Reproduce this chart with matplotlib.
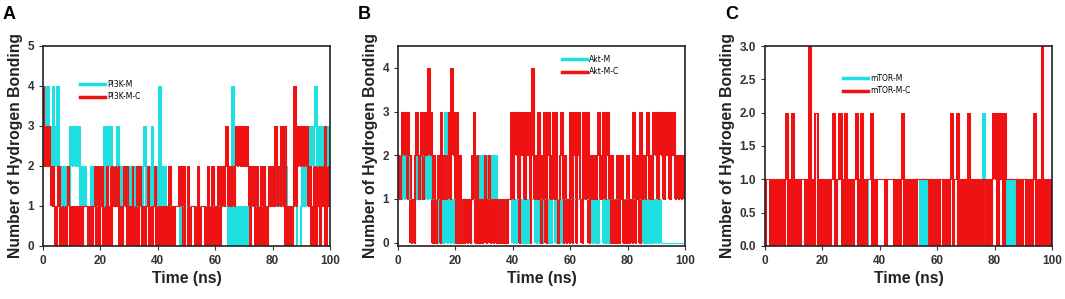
import numpy as np
import matplotlib
matplotlib.use('Agg')
import matplotlib.pyplot as plt
from matplotlib.lines import Line2D

plt.rcParams['font.family'] = ['Liberation Sans', 'DejaVu Sans']

# hydrogen bond counts, one digit per 0.5 ns frame, 10 ns per chunk
pi3k_m = ["34342324234212121213", "23232312121101212121", "12132323121231212121",
          "21212121212312123121", "24121211111111110111", "11111111111111111111",
          "11111111101040101010", "10101121111111111121", "12121212321010111000",
          "121223232342323232323"]
pi3k_mc = ["42323212101201010210", "10101010111101012020", "12012010212120102120",
           "10201202101012010120", "10101010201011121020", "02011101201110120120",
           "10201212312121323232", "32320212020120210121", "21312131301010141232",
           "323231201201201230121"]

akt_m = ["12121212101012121212", "12121010101013010101", "01010111111111212121",
         "21212121210101010111", "01010101010101110101", "01110101110101011111",
         "11111111111111101010", "11101010111111111111", "11111111111010101010",
         "101000000000000000000"]
akt_mc = ["21232313201023123132", "34230201203121231423", "03020101010123020101",
          "20120101010101010113", "13230323132302412130", "21302312313012302010",
          "30230231031230121212", "31231231020102012010", "20103012031212312132",
          "313231323132312121212"]

mtor_m = ["00000000000000000000", "00000000000000000000", "00000000000000000000",
          "00000000000100000000", "00000000000000000000", "00000000101010100000",
          "00000000000000000000", "00000000000020000000", "00000000101010100000",
          "000000000000000000000"]
mtor_mc = ["01110101010110120102", "01010111010301022010", "10101011201122012010",
           "10112012010111201011", "11110111110101012010", "10101011111111010101",
           "10110101012011201010", "10201010101010101012", "12021202111111101010",
           "110101012010130101011"]

frame_ns = 0.5

panels = [
    ("A", pi3k_m, pi3k_mc, "PI3K-M", "PI3K-M-C", (0, 5), [0, 1, 2, 3, 4, 5], "%d", (0.129, 0.83)),
    ("B", akt_m, akt_mc, "Akt-M", "Akt-M-C", (-0.08, 4.5), [0, 1, 2, 3, 4], "%d", (0.571, 0.955)),
    ("C", mtor_m, mtor_mc, "mTOR-M", "mTOR-M-C", (0, 3), [0, 0.5, 1.0, 1.5, 2.0, 2.5, 3.0], "%.1f", (0.272, 0.86)),
]

cyan = '#1fe0e0'
red = '#f01212'


def draw_trace(ax, chunks, color):
    # every frame-to-frame jump is drawn as a filled column, like the dense MD trace
    v = np.array([int(c) for c in "".join(chunks)])
    t = np.arange(len(v)) * frame_ns
    lo = np.minimum(v[:-1], v[1:])
    hi = np.maximum(v[:-1], v[1:])
    ax.fill_between(t, np.append(lo, lo[-1]), np.append(hi, hi[-1]),
                    step='post', color=color, lw=0)
    ax.plot(t, v, color=color, lw=0.8, drawstyle='steps-post')


fig = plt.figure(figsize=(10.65, 2.99), dpi=100)
lefts = [43, 398, 765]

for (letter, m, mc, lab_m, lab_mc, ylim, yticks, fmt, leg_xy), left in zip(panels, lefts):
    ax = fig.add_axes([left / 1065, 53 / 299, 287 / 1065, 200 / 299])
    draw_trace(ax, m, cyan)
    draw_trace(ax, mc, red)

    ax.set_xlim(0, 100)
    ax.set_ylim(*ylim)
    ax.set_xticks([0, 20, 40, 60, 80, 100])
    ax.set_yticks(yticks)
    ax.set_yticklabels([fmt % v for v in yticks])
    ax.tick_params(direction='out', length=3, width=0.8, labelsize=8.5, colors='#333333')
    for lbl in ax.get_xticklabels() + ax.get_yticklabels():
        lbl.set_fontweight('bold')
    for sp in ax.spines.values():
        sp.set_linewidth(1.2)
        sp.set_color('#222222')

    ax.set_xlabel("Time (ns)", fontsize=11.3, fontweight='bold', labelpad=3, color='#222222')
    ax.set_ylabel("Number of Hydrogen Bonding", fontsize=11.3, fontweight='bold', labelpad=3, color='#222222')

    handles = [Line2D([0], [0], color=cyan, lw=2.5), Line2D([0], [0], color=red, lw=2.5)]
    ax.legend(handles, [lab_m, lab_mc], loc='upper left', bbox_to_anchor=leg_xy,
              frameon=False, prop={'family': 'DejaVu Sans', 'size': 5.5},
              handlelength=3.3, handletextpad=0.3,
              labelspacing=0.45, borderpad=0, borderaxespad=0)

    fig.text((left - 40) / 1065, 1 - 6 / 299, letter, fontsize=13, fontweight='bold', va='top', ha='left')

fig.savefig('out.png', dpi=100)
